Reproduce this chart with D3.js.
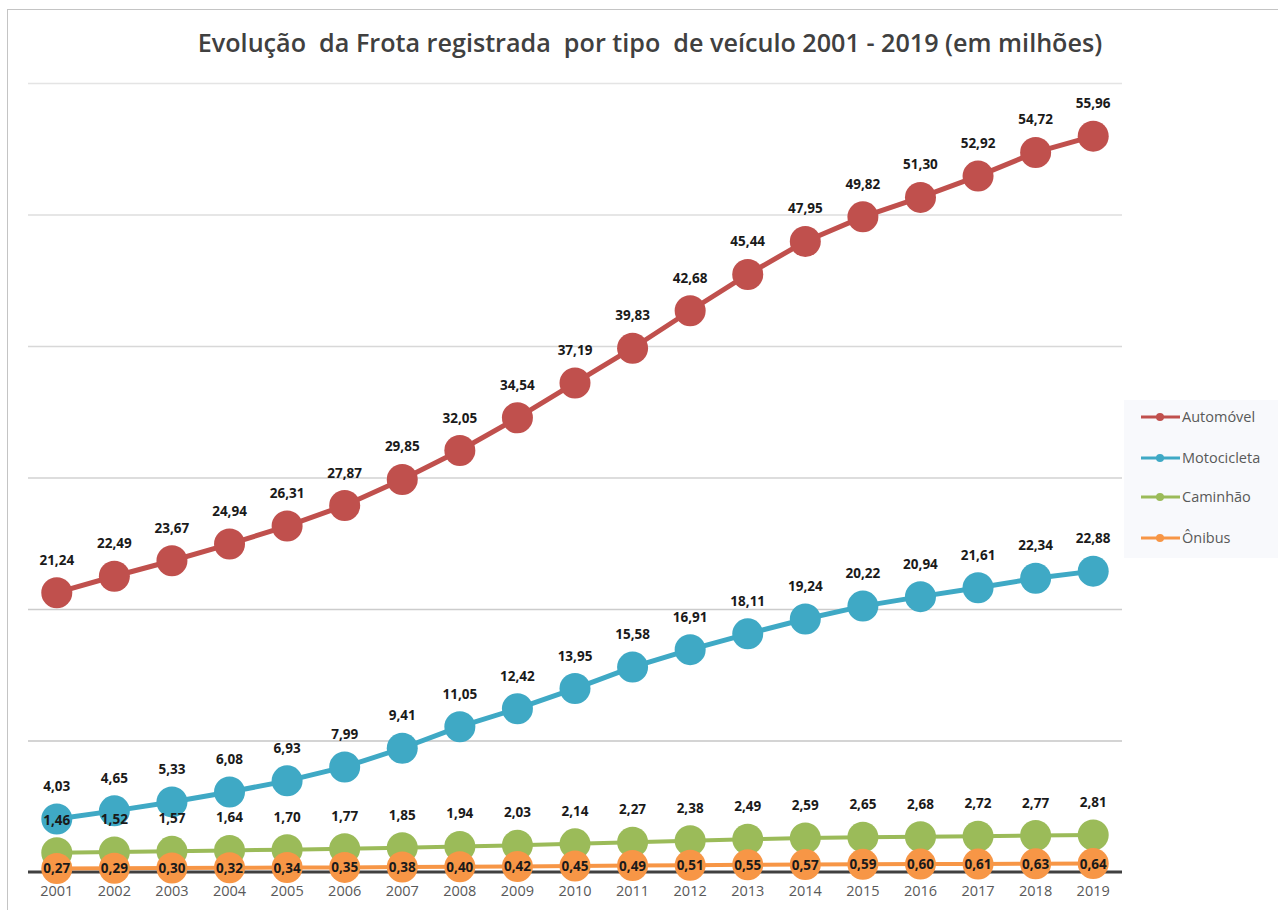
<!DOCTYPE html>
<html>
<head>
<meta charset="utf-8">
<script src="https://cdn.jsdelivr.net/npm/d3@7"></script>
<style>
  body { margin: 0; background: #fff; }
  svg { display: block; }
</style>
</head>
<body>
<script>
// data (millions of vehicles)
const years = ["2001","2002","2003","2004","2005","2006","2007","2008","2009","2010",
               "2011","2012","2013","2014","2015","2016","2017","2018","2019"];
const automovel   = [21.24,22.49,23.67,24.94,26.31,27.87,29.85,32.05,34.54,37.19,39.83,42.68,45.44,47.95,49.82,51.30,52.92,54.72,55.96];
const motocicleta = [4.03,4.65,5.33,6.08,6.93,7.99,9.41,11.05,12.42,13.95,15.58,16.91,18.11,19.24,20.22,20.94,21.61,22.34,22.88];
const caminhao    = [1.46,1.52,1.57,1.64,1.70,1.77,1.85,1.94,2.03,2.14,2.27,2.38,2.49,2.59,2.65,2.68,2.72,2.77,2.81];
const onibus      = [0.27,0.29,0.30,0.32,0.34,0.35,0.38,0.40,0.42,0.45,0.49,0.51,0.55,0.57,0.59,0.60,0.61,0.63,0.64];
const seriesNames = ["Automóvel","Motocicleta","Caminhão","Ônibus"];
const yTicks = [0,10,20,30,40,50,60];
const title = "Evolução  da Frota registrada  por tipo  de veículo 2001 - 2019 (em milhões)";

const width = 1278, height = 910;
const plotLeft = 28, plotRight = 1122, plotTop = 83, plotBottom = 872;
const colors = ["#c0504d","#3fa9c5","#9bbb59","#f79646"];
const lineWidths = [5, 5, 4, 4];

const series = [automovel, motocicleta, caminhao, onibus].map((vals, i) => ({
  name: seriesNames[i], color: colors[i], lw: lineWidths[i],
  values: vals.map((v, j) => ({ year: years[j], v: v }))
}));

const svg = d3.select("body").append("svg")
  .attr("width", width)
  .attr("height", height);

// outer chart border (only top and left visible)
svg.append("rect")
  .attr("x", 7.5).attr("y", 9.5)
  .attr("width", 1400).attr("height", 1000)
  .attr("fill", "#fff")
  .attr("stroke", "#c4c4c4");

const x = d3.scalePoint().domain(years).range([plotLeft, plotRight]).padding(0.5);
const y = d3.scaleLinear().domain([0, 60]).range([plotBottom, plotTop]);

// gridlines
svg.append("g").selectAll("line")
  .data(yTicks.filter(t => t > 0))
  .enter().append("line")
  .attr("x1", plotLeft).attr("x2", plotRight)
  .attr("y1", d => y(d) + 0.5).attr("y2", d => y(d) + 0.5)
  .attr("stroke", d => d3.interpolateRgb("#c0c0c0", "#e4e4e4")(d / 60))
  .attr("stroke-width", 1.5);

// baseline
svg.append("line")
  .attr("x1", plotLeft).attr("x2", plotRight)
  .attr("y1", y(0)).attr("y2", y(0))
  .attr("stroke", "#404040").attr("stroke-width", 3);

// x axis labels
svg.append("g").selectAll("text")
  .data(years)
  .enter().append("text")
  .attr("x", d => x(d))
  .attr("y", 896)
  .attr("text-anchor", "middle")
  .attr("font-family", "Open Sans")
  .attr("font-size", 14.5)
  .attr("fill", "#595959")
  .text(d => d);

const line = d3.line().x(d => x(d.year)).y(d => y(d.v));

series.forEach(s => {
  const g = svg.append("g");
  g.append("path")
    .datum(s.values)
    .attr("d", line)
    .attr("fill", "none")
    .attr("stroke", s.color)
    .attr("stroke-width", s.lw);
  g.selectAll("circle")
    .data(s.values)
    .enter().append("circle")
    .attr("cx", d => x(d.year))
    .attr("cy", d => y(d.v))
    .attr("r", 15.5)
    .attr("fill", s.color);
});

// value labels
const fmt = v => v.toFixed(2).replace(".", ",");
series.forEach((s, i) => {
  svg.append("g").selectAll("text")
    .data(s.values)
    .enter().append("text")
    .attr("x", d => x(d.year))
    .attr("y", d => i === 3 ? y(d.v) + 5 : y(d.v) - 28)
    .attr("text-anchor", "middle")
    .attr("font-family", "Open Sans")
    .attr("font-weight", 700)
    .attr("font-size", 13.5)
    .attr("fill", "#1a1a1a")
    .text(d => fmt(d.v));
});

// title
const t = svg.append("text")
  .attr("x", 650)
  .attr("y", 52)
  .attr("text-anchor", "middle")
  .attr("font-family", "Open Sans")
  .attr("font-weight", 600)
  .attr("font-size", 22)
  .attr("fill", "#404040")
  .style("white-space", "pre")
  .text(title);
const tw = t.node().getComputedTextLength();
t.attr("font-size", 22 * 905 / tw);

// legend
const legend = svg.append("g");
legend.append("rect")
  .attr("x", 1124).attr("y", 400)
  .attr("width", 154).attr("height", 158)
  .attr("fill", "#f8f9fc");
const legY = [417, 458, 497, 538];
series.forEach((s, i) => {
  const gy = legY[i];
  legend.append("line")
    .attr("x1", 1141).attr("x2", 1180)
    .attr("y1", gy).attr("y2", gy)
    .attr("stroke", s.color).attr("stroke-width", 3);
  legend.append("circle")
    .attr("cx", 1160).attr("cy", gy).attr("r", 4)
    .attr("fill", s.color);
  legend.append("text")
    .attr("x", 1182).attr("y", gy + 5)
    .attr("font-family", "Open Sans")
    .attr("font-size", 14.5)
    .attr("fill", "#595959")
    .text(s.name);
});
</script>
</body>
</html>
